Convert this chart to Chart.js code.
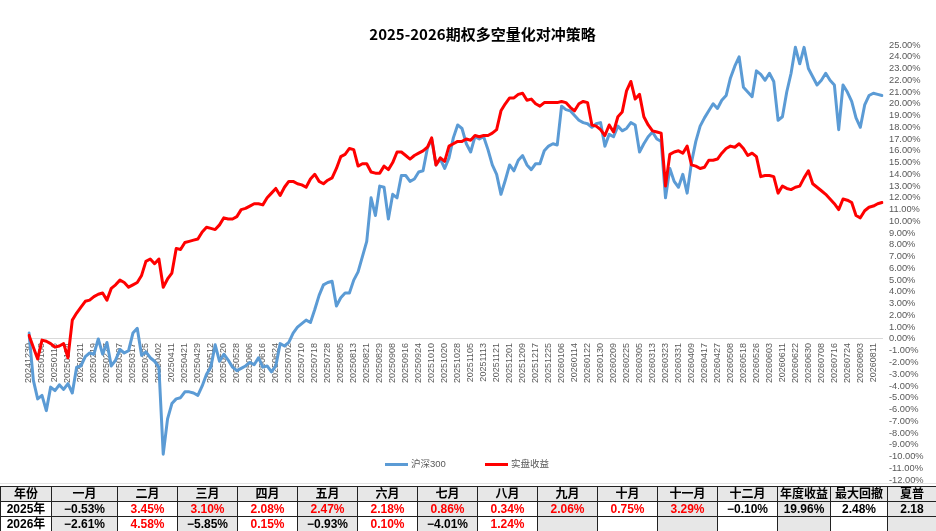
<!DOCTYPE html>
<html><head><meta charset="utf-8">
<script src="https://cdn.jsdelivr.net/npm/chart.js@4.4.1/dist/chart.umd.min.js"></script>
<style>
html,body{margin:0;padding:0;background:#fff;}
#wrap{position:relative;width:936px;height:531px;overflow:hidden;background:#fff;}
#c{position:absolute;left:0;top:0;}
.lg{position:absolute;font-family:"Liberation Sans","Noto Sans CJK SC",sans-serif;font-size:9.5px;color:#595959;line-height:12px;}
.lgline{position:absolute;height:3px;}
#gl{position:absolute;left:0;top:483px;width:936px;height:1px;background:#e3e3e3;}
#tbl{position:absolute;left:0;top:486px;width:936px;border-collapse:collapse;table-layout:fixed;
 font-family:"Liberation Sans","Noto Sans CJK SC",sans-serif;font-size:12px;font-weight:bold;}
#tbl td{border:1px solid #222;height:14px;padding:0;text-align:center;vertical-align:middle;line-height:13px;white-space:nowrap;overflow:hidden;}
#tbl tr.h td{background:#e7e7e7;}
#tbl td.g{background:#e7e7e7;}
#tbl td.r{color:#ff0000;}
</style></head><body>
<div id="wrap">
<canvas id="c" width="936" height="531"></canvas>
<div class="lgline" style="left:385px;top:463px;width:23px;background:#5b9bd5;"></div>
<div class="lg" style="left:411px;top:458px;">沪深300</div>
<div class="lgline" style="left:485px;top:463px;width:23px;background:#ff0000;"></div>
<div class="lg" style="left:511px;top:458px;">实盘收益</div>
<div id="gl"></div>
<table id="tbl"><colgroup id="cols"></colgroup><tbody id="tb"></tbody></table>
</div>
<script>
const chartTitle = '2025-2026期权多空量化对冲策略';
const seriesNames = ['沪深300', '实盘收益'];
const tickLabels = ['20241230','20250108','20250116','20250124','20250211','20250219','20250227','20250307','20250317','20250325',
'20250402','20250411','20250421','20250429','20250512','20250520','20250528','20250606','20250616','20250624',
'20250702','20250710','20250718','20250728','20250805','20250813','20250821','20250829','20250908','20250916',
'20250924','20251010','20251020','20251028','20251105','20251113','20251121','20251201','20251209','20251217',
'20251225','20260106','20260114','20260122','20260130','20260209','20260225','20260305','20260313','20260323',
'20260331','20260409','20260417','20260427','20260508','20260518','20260526','20260603','20260611','20260622',
'20260630','20260708','20260716','20260724','20260803','20260811'];
// points sampled every 2 trading days: 3 points per labelled date
const hs300 = [0.5,-3.5,-5.1,-4.8,-6.1,-4.1,-4.4,-3.9,-4.3,-3.8,
-4.6,-2.4,-2.3,-1.5,-1.2,-1.3,0.0,-1.3,-0.3,-2.3,
-1.8,-0.9,-1.2,-1.0,0.5,0.9,-1.4,-1.1,-1.6,-1.9,
-2.4,-9.8,-6.8,-5.5,-5.1,-5.0,-4.5,-4.5,-4.6,-4.8,
-4.0,-3.0,-2.4,-0.5,-1.9,-1.3,-1.8,-2.4,-2.7,-2.5,
-2.3,-2.0,-2.2,-1.6,-2.4,-2.3,-2.8,-2.3,-0.4,-0.6,
-0.3,0.5,1.0,1.3,1.6,1.4,2.5,3.7,4.6,4.8,
4.9,2.8,3.5,3.9,3.9,5.0,5.7,7.0,8.3,12.0,
10.5,13.0,12.9,10.2,12.3,12.0,13.9,13.9,13.4,13.6,
14.2,14.3,16.2,17.0,14.8,15.3,14.5,15.4,17.1,18.2,
17.9,16.6,15.9,17.2,17.0,17.2,16.1,14.8,14.0,12.3,
13.5,14.8,14.3,15.2,15.6,14.8,14.4,14.9,14.9,16.0,
16.4,16.6,16.5,19.8,19.5,19.4,19.0,18.6,18.4,18.3,
18.0,18.3,18.4,16.4,17.4,17.2,18.1,17.7,17.9,18.4,
18.2,15.9,16.6,17.2,17.6,17.0,16.8,12.0,14.5,13.4,
12.9,14.0,12.4,15.0,16.8,18.1,18.8,19.4,20.0,19.6,
20.3,20.7,22.2,23.2,24.0,21.4,21.0,20.6,22.8,22.5,
22.0,22.6,21.9,18.6,18.9,21.0,22.6,24.8,23.4,24.8,
23.0,22.3,21.6,22.0,22.6,22.0,21.6,17.8,21.6,21.0,
20.2,18.8,18.0,19.9,20.7,20.9,20.8,20.7];
const liveReturn = [0.3,-0.7,-1.7,-0.1,-0.2,-0.4,-0.7,-0.6,-0.4,-1.6,
1.6,2.2,2.7,3.2,3.3,3.6,3.8,3.9,3.3,4.3,
4.6,5.0,4.8,4.4,4.6,4.8,5.4,6.6,6.8,6.4,
6.8,4.4,5.1,5.6,7.7,7.6,8.2,8.3,8.4,8.5,
9.1,9.5,9.4,9.3,9.7,10.3,10.2,10.2,10.4,11.0,
11.1,11.3,11.5,11.5,11.4,12.0,12.4,12.8,12.2,12.9,
13.4,13.4,13.2,13.1,12.9,13.6,14.0,13.4,13.2,13.5,
13.7,14.5,15.5,15.7,16.2,16.1,14.7,14.9,14.9,14.2,
14.1,14.1,14.7,14.4,15.0,15.9,15.9,15.6,15.3,15.6,
15.8,16.0,16.3,17.1,14.8,15.4,15.1,16.4,16.6,16.8,
16.8,17.0,16.9,17.3,17.2,17.3,17.3,17.5,17.8,19.4,
20.0,20.5,20.5,20.8,20.9,20.3,20.4,20.0,19.8,20.1,
20.1,20.1,20.1,20.2,20.1,19.7,19.4,20.0,20.2,20.1,
18.2,18.1,17.8,17.3,18.2,17.6,18.9,19.3,21.1,21.9,
20.4,20.8,18.9,18.2,17.7,17.6,17.5,13.0,15.7,15.9,
16.0,15.8,16.4,14.8,14.7,14.5,14.6,15.2,15.2,15.3,
15.8,16.2,16.4,16.3,16.6,16.2,15.6,15.8,15.5,13.8,
13.9,13.9,13.8,12.4,13.0,12.8,12.7,12.9,13.0,13.7,
14.3,13.2,12.9,12.6,12.3,11.9,11.5,11.0,11.9,11.8,
11.6,10.5,10.3,10.9,11.2,11.3,11.5,11.6];
const yMin = -12, yMax = 25;

const tableHead = ['年份','一月','二月','三月','四月','五月','六月','七月','八月','九月','十月','十一月','十二月','年度收益','最大回撤','夏普'];
const row2025 = ['2025年','−0.53%','3.45%','3.10%','2.08%','2.47%','2.18%','0.86%','0.34%','2.06%','0.75%','3.29%','−0.10%','19.96%','2.48%','2.18'];
const row2026 = ['2026年','−2.61%','4.58%','−5.85%','0.15%','−0.93%','0.10%','−4.01%','1.24%','','','','','','',''];
const redCells2025 = [2,3,4,5,6,7,8,9,10,11];
const redCells2026 = [2,4,6,8];
const colWidths = [51,66,60,60,60,60,60,60,60,60,60,60,60,53,57,49];

// table
const cols = document.getElementById('cols');
colWidths.forEach(w => { const c = document.createElement('col'); c.style.width = w + 'px'; cols.appendChild(c); });
const tb = document.getElementById('tb');
function addRow(cells, cls, reds) {
  const tr = document.createElement('tr');
  if (cls) tr.className = cls;
  cells.forEach((t, i) => {
    const td = document.createElement('td');
    td.textContent = t;
    const k = [];
    if (!cls && i > 0 && i % 2 === 1) k.push('g');
    if (reds && reds.includes(i)) k.push('r');
    td.className = k.join(' ');
    tr.appendChild(td);
  });
  tb.appendChild(tr);
}
addRow(tableHead, 'h', null);
addRow(row2025, '', redCells2025);
addRow(row2026, '', redCells2026);

// chart
const labels = hs300.map((_, j) => (j % 3 === 0 && tickLabels[j / 3]) ? tickLabels[j / 3] : '');

new Chart(document.getElementById('c'), {
  type: 'line',
  data: {
    labels: labels,
    datasets: [
      { label: seriesNames[0], data: hs300, borderColor: '#5b9bd5', backgroundColor: '#5b9bd5',
        borderWidth: 3, pointRadius: 0, tension: 0, order: 2, borderJoinStyle: 'round', borderCapStyle: 'round' },
      { label: seriesNames[1], data: liveReturn, borderColor: '#ff0000', backgroundColor: '#ff0000',
        borderWidth: 3, pointRadius: 0, tension: 0, order: 1, borderJoinStyle: 'round', borderCapStyle: 'round' }
    ]
  },
  options: {
    responsive: false,
    animation: false,
    layout: { padding: { left: 29, right: 0, top: 0, bottom: 51 } },
    plugins: {
      legend: { display: false },
      tooltip: { enabled: false },
      title: {
        display: true, text: chartTitle, color: '#000',
        font: { family: 'Noto Sans CJK SC', size: 15, weight: 'bold' },
        padding: { top: 25, bottom: 2 }
      }
    },
    scales: {
      x: {
        type: 'category',
        position: { y: 0 },
        offset: false,
        grid: { display: false, drawTicks: false },
        border: { display: true, color: '#d9d9d9', width: 1 },
        ticks: {
          autoSkip: false, minRotation: 90, maxRotation: 90, padding: 4,
          color: '#595959', font: { family: 'Liberation Sans', size: 9 },
          callback: (v, i) => labels[i]
        }
      },
      y: {
        position: 'right',
        min: yMin, max: yMax,
        grid: { display: false, drawTicks: false },
        border: { display: false },
        ticks: {
          autoSkip: false, stepSize: 1, padding: 7, color: '#595959',
          font: { family: 'Liberation Sans', size: 9.3 },
          callback: v => Number(v).toFixed(2) + '%'
        },
        afterFit: s => { s.width = 54; }
      }
    }
  }
});
</script>
</body></html>
